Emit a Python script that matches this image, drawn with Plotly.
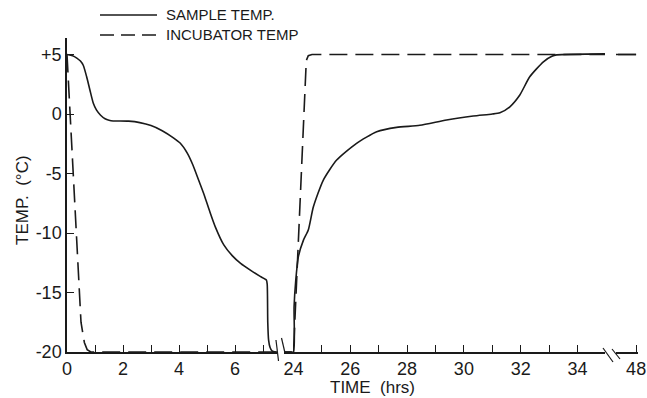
import plotly.graph_objects as go

# ---- data (hours, deg C) ----
sample_t = [0.0, 0.2, 0.35, 0.48, 0.58, 0.7, 0.82, 0.94, 1.05, 1.2, 1.36, 1.5, 1.65, 1.9, 2.2,
            2.6, 3.0, 3.4, 3.8, 4.04, 4.3, 4.5, 4.7, 4.9, 5.1, 5.3, 5.6, 5.9, 6.2, 6.6, 6.9,
            7.12, 7.15, 7.17, 7.2, 7.25, 7.32, 7.45, 23.9, 24.0, 24.02, 24.08, 24.17, 24.35,
            24.52, 24.7, 25.05, 25.52, 26.22, 26.93, 27.63, 28.45, 29.39, 30.33, 31.0, 31.27,
            31.62, 31.97, 32.32, 32.8, 33.1, 33.27, 48.0]
sample_temp = [5.0, 4.9, 4.7, 4.45, 4.1, 3.15, 2.0, 0.9, 0.35, -0.1, -0.4, -0.52, -0.58,
               -0.58, -0.6, -0.72, -0.97, -1.4, -2.0, -2.44, -3.3, -4.3, -5.55, -6.8, -8.2,
               -9.5, -11.0, -11.9, -12.55, -13.2, -13.65, -13.95, -14.3, -17.5, -19.0,
               -19.6, -19.9, -20.0, -20.0, -20.0, -16.2, -13.95, -12.0, -10.6, -9.75, -7.8,
               -5.55, -3.87, -2.46, -1.49, -1.12, -0.95, -0.5, -0.17, 0.0, 0.11, 0.61, 1.6,
               3.13, 4.39, 4.85, 4.97, 5.0]
incub_t = [0.0, 0.5, 0.62, 0.72, 0.85, 24.0, 24.45, 24.52, 24.65, 48.0]
incub_temp = [5.0, -17.5, -19.2, -19.8, -20.0, -20.0, 4.5, 4.9, 5.0, 5.0]

seg_ranges = [[0, 7.5], [23.665, 34.97], [47.24, 48.07]]
seg_ticks = [list(range(0, 8)), list(range(24, 35)), [48]]
seg_labels = [[str(v) if v % 2 == 0 else "" for v in seg_ticks[0]],
              [str(v) if v % 2 == 0 else "" for v in seg_ticks[1]],
              ["48"]]
y_ticks = [-20, -15, -10, -5, 0, 5]
y_labels = ["-20", "-15", "-10", "-5", "0", "+5"]

FONT = "Liberation Sans, Arial, sans-serif"
INK = "#1a1a1a"

fig = go.Figure()
axes = ["x", "x2", "x3"]
for ax in axes:
    fig.add_trace(go.Scatter(x=sample_t, y=sample_temp, mode="lines", xaxis=ax, yaxis="y",
                             line=dict(color=INK, width=1.6, shape="spline", smoothing=0.6),
                             showlegend=False, name="SAMPLE TEMP."))
    fig.add_trace(go.Scatter(x=incub_t, y=incub_temp, mode="lines", xaxis=ax, yaxis="y",
                             line=dict(color=INK, width=1.6, dash="18px,8px"),
                             showlegend=False, name="INCUBATOR TEMP"))

W, H = 647, 398
L, R, T, B = 67, 9, 38, 46
PW, PH = W - L - R, H - T - B


def px(xp):
    return (xp - L) / PW


def py(yp):
    return (H - B - yp) / PH


domains = [[0, px(277)], [px(284), px(605)], [px(616), 1.0]]

layout = dict(
    width=W, height=H, autosize=False,
    margin=dict(l=L, r=R, t=T, b=B),
    paper_bgcolor="white", plot_bgcolor="white",
    font=dict(family=FONT, color=INK, size=17),
    yaxis=dict(range=[-20, 6.39], tickvals=y_ticks, ticktext=y_labels, ticks="inside",
               ticklen=7, tickwidth=1.3, tickcolor=INK, showline=True, linecolor=INK,
               linewidth=1.5, showgrid=False, zeroline=False, anchor="x",
               automargin=False, tickfont=dict(size=18)),
)
for i, ax in enumerate(axes):
    key = "xaxis" if i == 0 else f"xaxis{i+1}"
    layout[key] = dict(domain=domains[i], range=seg_ranges[i], tickvals=seg_ticks[i],
                       ticktext=seg_labels[i], ticks="inside", ticklen=7, tickwidth=1.3,
                       tickcolor=INK, showline=True, linecolor=INK, linewidth=1.5,
                       showgrid=False, zeroline=False, anchor="y", automargin=False,
                       ticklabeloverflow="allow", tickfont=dict(size=18))
fig.update_layout(**layout)

shapes = []
# legend samples
shapes.append(dict(type="line", xref="paper", yref="paper", x0=px(100), x1=px(157),
                   y0=py(15), y1=py(15), line=dict(color=INK, width=1.6)))
shapes.append(dict(type="line", xref="paper", yref="paper", x0=px(100), x1=px(157),
                   y0=py(35), y1=py(35), line=dict(color=INK, width=1.6, dash="14px,7px")))
# axis break marks
for (x0, y0, x1, y1) in [(276, 340, 278.5, 361), (281.5, 338, 285, 353),
                         (603, 348, 613, 362), (612, 349, 620, 359)]:
    shapes.append(dict(type="line", xref="paper", yref="paper", x0=px(x0), x1=px(x1),
                       y0=py(y0), y1=py(y1), line=dict(color=INK, width=1.2)))
fig.update_layout(shapes=shapes)

annotations = [
    dict(text="SAMPLE TEMP.", x=px(164), y=py(15), xref="paper", yref="paper",
         xanchor="left", yanchor="middle", showarrow=False, font=dict(size=15)),
    dict(text="INCUBATOR TEMP", x=px(164), y=py(35), xref="paper", yref="paper",
         xanchor="left", yanchor="middle", showarrow=False, font=dict(size=15)),
    dict(text="TIME  (hrs)", x=px(372), y=py(387), xref="paper", yref="paper",
         xanchor="center", yanchor="middle", showarrow=False, font=dict(size=17)),
    dict(text="TEMP.  (°C)", x=px(22), y=py(200), xref="paper", yref="paper",
         xanchor="center", yanchor="middle", textangle=-90, showarrow=False,
         font=dict(size=17)),
]
fig.update_layout(annotations=annotations)

fig.write_html("out.html")
